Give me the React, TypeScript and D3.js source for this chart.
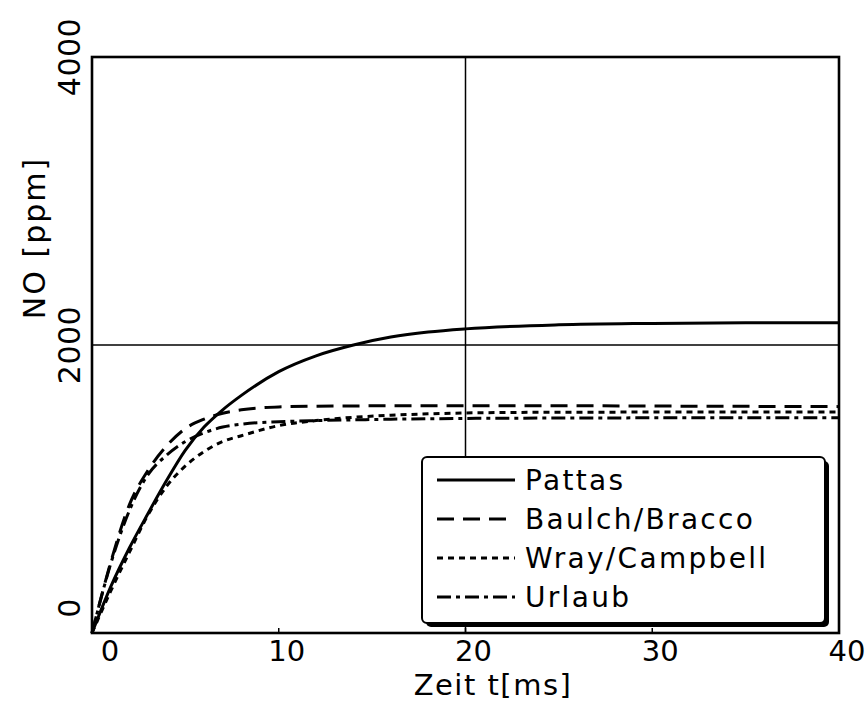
import React from "react";
import * as d3 from "d3";

const times = [0, 1, 2, 3, 4, 5, 6, 7, 8, 10, 12, 14, 16, 18, 20, 25, 30, 35, 40];
const pattas = [0, 320, 590, 830, 1060, 1270, 1430, 1550, 1650, 1815, 1925, 2000, 2055, 2090, 2112, 2140, 2150, 2155, 2155];
const baulchBracco = [0, 490, 890, 1130, 1300, 1420, 1485, 1526, 1550, 1570, 1575, 1577, 1578, 1578, 1578, 1578, 1576, 1574, 1572];
const wrayCampbell = [0, 290, 560, 820, 1020, 1160, 1260, 1330, 1370, 1440, 1475, 1498, 1512, 1522, 1528, 1533, 1534, 1534, 1534];
const urlaub = [0, 480, 850, 1100, 1235, 1330, 1390, 1430, 1450, 1467, 1475, 1480, 1485, 1488, 1490, 1493, 1494, 1494, 1494];

const seriesNames = ["Pattas", "Baulch/Bracco", "Wray/Campbell", "Urlaub"];
const seriesValues = [pattas, baulchBracco, wrayCampbell, urlaub];
const seriesDash = ["none", "17,9", "6,5", "14,5,4,5"];

const xTicks = [0, 10, 20, 30, 40];
const yTicks = [0, 2000, 4000];
const xTitle = "Zeit t[ms]";
const yTitle = "NO [ppm]";

export default function App() {
  const W = 867, H = 708;
  const x = d3.scaleLinear().domain([0, 40]).range([92, 839]);
  const y = d3.scaleLinear().domain([0, 4000]).range([633, 57]);
  const line = d3
    .line<number>()
    .x((_, i) => x(times[i]))
    .y((d) => y(d))
    .curve(d3.curveMonotoneX);

  const font = "'DejaVu Sans', sans-serif";
  const lg = { x0: 422, y0: 457, x1: 825, y1: 623 };

  return (
    <svg width={W} height={H} style={{ position: "absolute", left: 0, top: 0, background: "#fff" }}>
      <rect x={0} y={0} width={W} height={H} fill="#fff" />
      {/* grid lines */}
      <line x1={x(20)} x2={x(20)} y1={y(4000)} y2={y(0)} stroke="#000" strokeWidth={1.5} />
      <line x1={x(0)} x2={x(40)} y1={y(2000)} y2={y(2000)} stroke="#000" strokeWidth={1.5} />
      {/* curves */}
      {seriesValues.map((vals, i) => (
        <path
          key={seriesNames[i]}
          d={line(vals) || ""}
          fill="none"
          stroke="#000"
          strokeWidth={3}
          strokeDasharray={seriesDash[i]}
        />
      ))}
      {/* frame */}
      <rect
        x={x(0)}
        y={y(4000)}
        width={x(40) - x(0)}
        height={y(0) - y(4000)}
        fill="none"
        stroke="#000"
        strokeWidth={2.6}
      />
      {/* x tick marks */}
      {xTicks.map((t) => (
        <line key={"xt" + t} x1={x(t)} x2={x(t)} y1={y(0)} y2={y(0) - 5} stroke="#000" strokeWidth={1.5} />
      ))}
      {/* x tick labels */}
      {xTicks.map((t, i) => (
        <text
          key={"xl" + t}
          x={x(t) + (i === 0 ? 18 : 8)}
          y={661}
          textAnchor="middle"
          fontFamily={font}
          fontSize={29}
        >
          {t}
        </text>
      ))}
      {/* y tick labels */}
      {yTicks.map((v) => (
        <text
          key={"yl" + v}
          transform={`translate(80,${y(v) - (v === 0 ? 25 : 0)}) rotate(-90)`}
          textAnchor="middle"
          fontFamily={font}
          fontSize={30}
          letterSpacing={0.5}
        >
          {v}
        </text>
      ))}
      {/* axis titles */}
      <text x={493} y={695} textAnchor="middle" fontFamily={font} fontSize={29} letterSpacing={1.5}>
        {xTitle}
      </text>
      <text
        transform={`translate(45,238) rotate(-90)`}
        textAnchor="middle"
        fontFamily={font}
        fontSize={30}
        letterSpacing={2}
      >
        {yTitle}
      </text>
      {/* legend */}
      <rect x={lg.x0 + 4} y={lg.y0 + 4} width={lg.x1 - lg.x0} height={lg.y1 - lg.y0} rx={5} fill="#000" />
      <rect
        x={lg.x0}
        y={lg.y0}
        width={lg.x1 - lg.x0}
        height={lg.y1 - lg.y0}
        rx={5}
        fill="#fff"
        stroke="#000"
        strokeWidth={2}
      />
      {seriesNames.map((name, i) => {
        const cy = 480 + i * 39;
        return (
          <g key={"lg" + name}>
            <line
              x1={437}
              x2={515}
              y1={cy}
              y2={cy}
              stroke="#000"
              strokeWidth={3}
              strokeDasharray={seriesDash[i]}
            />
            <text x={525} y={cy + 10} fontFamily={font} fontSize={28} letterSpacing={2.3}>
              {name}
            </text>
          </g>
        );
      })}
    </svg>
  );
}
